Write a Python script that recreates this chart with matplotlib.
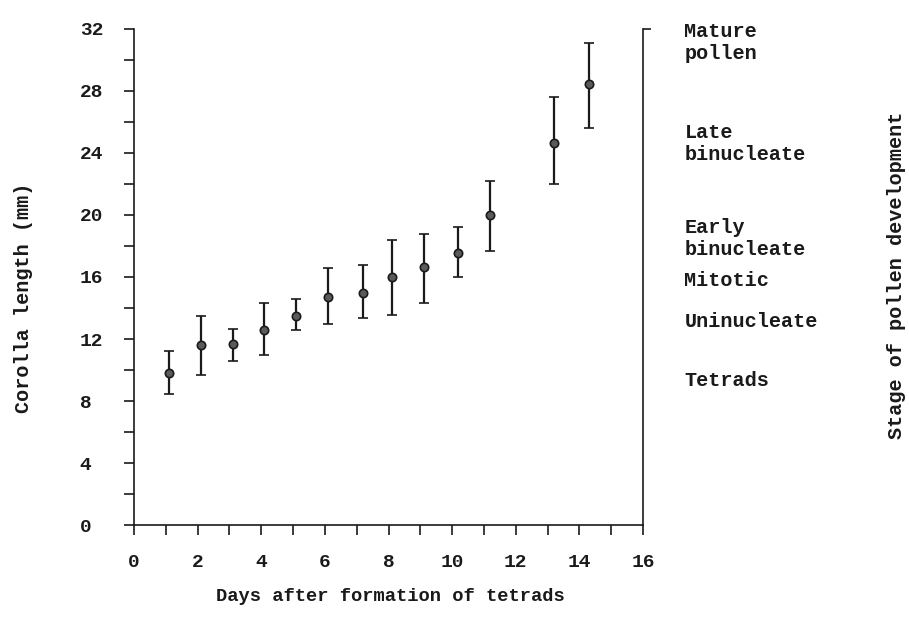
import matplotlib.pyplot as plt

days = [1.1, 2.1, 3.1, 4.1, 5.1, 6.1, 7.2, 8.1, 9.1, 10.2, 11.2, 13.2, 14.3]
length = [9.8, 11.6, 11.7, 12.6, 13.5, 14.7, 15.0, 16.0, 16.65, 17.55, 20.0, 24.65, 28.45]
upper = [11.2, 13.5, 12.65, 14.3, 14.55, 16.6, 16.75, 18.4, 18.75, 19.2, 22.2, 27.6, 31.1]
lower = [8.45, 9.7, 10.6, 10.95, 12.55, 13.0, 13.35, 13.55, 14.35, 16.0, 17.7, 22.0, 25.6]

stages = ["Mature\npollen", "Late\nbinucleate", "Early\nbinucleate",
          "Mitotic", "Uninucleate", "Tetrads"]
stage_y = [31.1, 24.6, 18.5, 15.8, 13.1, 9.35]

x_ticks = list(range(0, 17, 2))
y_ticks = list(range(0, 33, 4))

plt.rcParams['font.family'] = ['Liberation Mono', 'DejaVu Sans Mono']
plt.rcParams['font.weight'] = 'bold'
ink = "#1a1a1a"

fig = plt.figure(figsize=(9.09, 6.37), dpi=100)
ax = fig.add_axes([0.1474, 0.1758, 0.5600, 0.7787])

err_lo = [m - l for m, l in zip(length, lower)]
err_hi = [u - m for m, u in zip(length, upper)]
ax.errorbar(days, length, yerr=[err_lo, err_hi], fmt='o', color=ink,
            ecolor=ink, elinewidth=1.6, capsize=3.5, capthick=1.6,
            markersize=6, markerfacecolor="#5a5a5a", markeredgecolor=ink,
            markeredgewidth=1.2)

ax.set_xlim(0, 16)
ax.set_ylim(0, 32)
ax.set_xticks(x_ticks)
ax.set_xticks(range(0, 16), minor=True)
ax.set_yticks(y_ticks)
ax.set_yticks(range(0, 33, 2), minor=True)
ax.tick_params(axis='both', which='both', direction='out', length=7,
               width=1.2, colors=ink, labelsize=14)
ax.tick_params(axis='x', which='major', pad=14)
ax.tick_params(axis='y', which='major', pad=32)
for t in ax.get_yticklabels():
    t.set_horizontalalignment('left')

ax.spines['top'].set_visible(False)
for s in ['left', 'bottom', 'right']:
    ax.spines[s].set_linewidth(1.2)
    ax.spines[s].set_color(ink)

# small tick at top of right spine
ax2 = ax.twinx()
ax2.set_ylim(0, 32)
ax2.set_yticks([32])
ax2.set_yticklabels([])
ax2.tick_params(axis='y', direction='out', length=6, width=1.2, colors=ink)
for s in ['top', 'left', 'bottom', 'right']:
    ax2.spines[s].set_visible(False)

for lab, yv in zip(stages, stage_y):
    ax.text(17.3, yv, lab, fontsize=14.5, color=ink, va='center', ha='left',
            linespacing=1.2, clip_on=False)

fig.text(0.430, 0.063, "Days after formation of tetrads", fontsize=13.5,
         color=ink, ha='center', va='center')
fig.text(0.026, 0.532, "Corolla length (mm)", fontsize=14.5, color=ink,
         rotation=90, ha='center', va='center')
fig.text(0.986, 0.568, "Stage of pollen development", fontsize=14.5,
         color=ink, rotation=90, ha='center', va='center')

fig.savefig("out.png", dpi=100, facecolor="white")
